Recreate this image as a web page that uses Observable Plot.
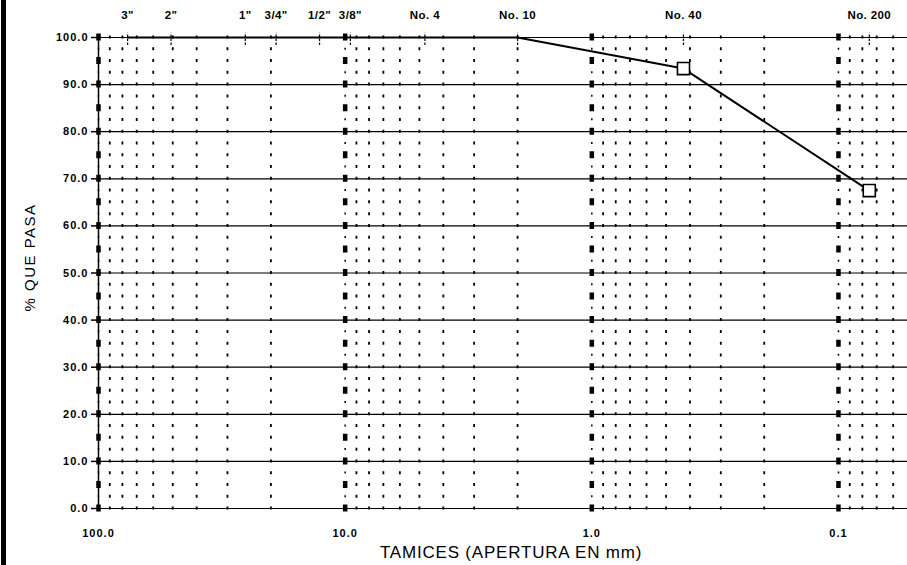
<!DOCTYPE html>
<html><head><meta charset="utf-8">
<script src="https://cdn.jsdelivr.net/npm/d3@7"></script>
<script src="https://cdn.jsdelivr.net/npm/@observablehq/plot@0.6"></script>
<style>
body{margin:0;background:#fff;}
#wrap{position:relative;width:907px;height:565px;}
#bar{position:absolute;left:1px;top:0;width:5px;height:565px;background:#000;}
</style>
</head><body><div id="wrap"><div id="chart"></div><div id="bar"></div></div>
<script>
// Sieve designations and openings (mm)
const sieveLabels = ['3"', '2"', '1"', '3/4"', '1/2"', '3/8"', 'No. 4', 'No. 10', 'No. 40', 'No. 200'];
const sieveSizes = [76.2, 50.8, 25.4, 19.05, 12.7, 9.525, 4.75, 2.0, 0.425, 0.075];
// % passing
const percentPassing = [100, 100, 100, 100, 100, 100, 100, 100, 93.4, 67.5];
// axis ticks
const yTicks = [0, 10, 20, 30, 40, 50, 60, 70, 80, 90, 100];
const xMajor = [100, 10, 1, 0.1];
const xMinor = [90, 80, 70, 60, 50, 40, 30, 20, 9, 8, 7, 6, 5, 4, 3, 2, 0.9, 0.8, 0.7, 0.6, 0.5, 0.4, 0.3, 0.2, 0.09, 0.08, 0.07, 0.06];
const yLabel = "% QUE PASA";
const xLabel = "TAMICES (APERTURA EN mm)";

const sieves = sieveSizes.map((s, i) => ({size: s, label: sieveLabels[i], pass: percentPassing[i]}));
const font = "'Liberation Sans', Arial, sans-serif";

const chart = Plot.plot({
  width: 907,
  height: 565,
  marginLeft: 98,
  marginRight: 0,
  marginTop: 37,
  marginBottom: 57,
  style: {fontFamily: font, background: "white", color: "black", overflow: "visible"},
  x: {type: "log", domain: [100, 0.0525], range: [98, 907]},
  y: {domain: [0, 100]},
  marks: [
    // minor dotted verticals
    Plot.ruleX(xMinor, {y1: -0.32, y2: 100.3, stroke: "black", strokeWidth: 1.8, strokeDasharray: "3,8.775"}),
    // major verticals: thin dots + thick dashes
    Plot.ruleX(xMajor, {y1: -0.2, y2: 100.2, stroke: "black", strokeWidth: 1.5, strokeDasharray: "2,9.775"}),
    Plot.ruleX(xMajor, {y1: -0.74, y2: 100.74, stroke: "black", strokeWidth: 4.5, strokeDasharray: "7,16.55"}),
    // horizontal grid
    Plot.ruleY(yTicks, {stroke: "black", strokeWidth: 1.2}),
    // y axis line
    Plot.ruleX([100], {y1: 0, y2: 100, stroke: "black", strokeWidth: 1.5}),
    // sieve ticks on top line
    Plot.ruleX(sieves, {x: "size", y1: 98.3, y2: 100.9, stroke: "black", strokeWidth: 1.2, strokeDasharray: "2.5,1.5"}),
    // sieve labels
    Plot.text(sieves, {x: "size", y: 100, text: "label", dy: -22, fontSize: 11.5, fontWeight: "bold", fill: "black"}),
    // curve
    Plot.line(sieves, {x: "size", y: "pass", stroke: "black", strokeWidth: 2}),
    Plot.dot(sieves.filter(d => d.pass < 100), {x: "size", y: "pass", symbol: "square", r: 6.8, fill: "white", stroke: "black", strokeWidth: 1.6}),
    // axes
    Plot.axisY(yTicks, {tickFormat: d => d.toFixed(1), tickSize: 7, tickPadding: 3, fontSize: 11, fontWeight: "bold", label: null, stroke: "black", strokeWidth: 1.5}),
    Plot.axisX(xMajor, {tickFormat: d => d.toFixed(1), tickSize: 0, tickPadding: 21, fontSize: 11, fontWeight: "bold", label: null}),
    // axis titles
    Plot.text([yLabel], {frameAnchor: "left", rotate: -90, dx: -68.8, dy: 38.5, fontSize: 15, fill: "black"}),
    Plot.text([xLabel], {frameAnchor: "bottom", lineAnchor: "middle", dx: 8, dy: 44, fontSize: 17, fill: "black"})
  ]
});
document.getElementById("chart").appendChild(chart);
const svg = d3.select(chart);
svg.selectAll('g[aria-label="y-axis tick label"] text, g[aria-label="x-axis tick label"] text').style("letter-spacing", "1px");
svg.selectAll("text").filter(function(){ return this.textContent === xLabel; }).style("letter-spacing", "0.8px");
svg.selectAll("text").filter(function(){ return this.textContent === yLabel; }).style("letter-spacing", "1.5px");
svg.selectAll("text").filter(function(){ return sieveLabels.includes(this.textContent); }).style("letter-spacing", "0.4px");
</script>
</body></html>
